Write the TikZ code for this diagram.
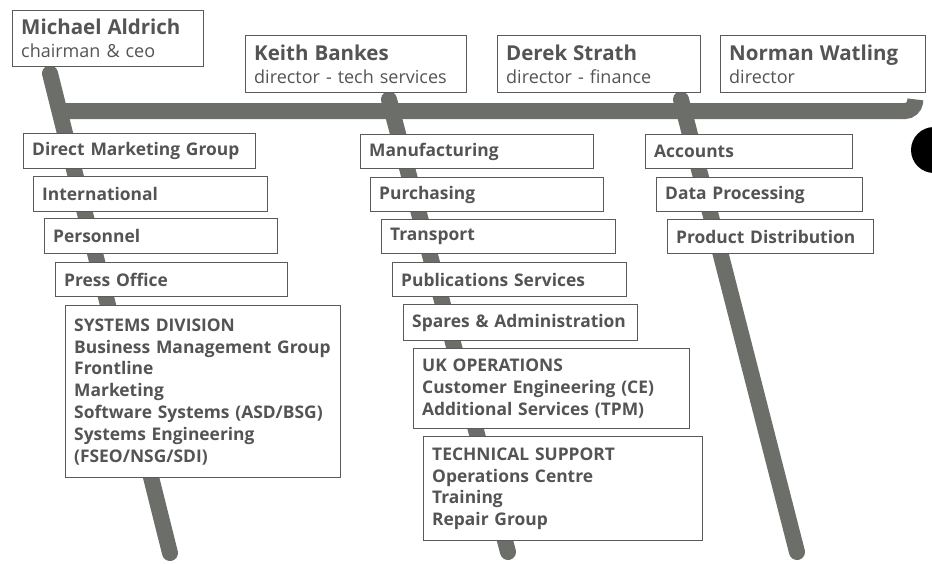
\documentclass[tikz,border=0pt]{standalone}
\usepackage{fontspec}
\setmainfont{Open Sans}
\usetikzlibrary{calc,backgrounds}
\definecolor{polec}{HTML}{6C6F69}
\definecolor{ink}{HTML}{545454}
\definecolor{edge}{HTML}{5A5A5A}
\newcommand\bx[7][]{\node[box,#1, minimum width=#5pt, minimum height=#6pt, text width=\dimexpr#5pt-17pt\relax] (#2) at (#3,#4) {#7};}
\begin{document}
\begin{tikzpicture}[x=1pt,y=-1pt,
  box/.style={draw=edge, line width=1.4pt, fill=white, anchor=north west, inner xsep=8pt, inner ysep=0pt, align=left, text=ink, font=\bfseries\fontsize{17.4}{21.8}\selectfont},
  topbox/.style={font=\mdseries\fontsize{18}{23}\selectfont},
  polest/.style={draw=polec, line width=16pt, line cap=round},
  barst/.style={draw=polec, line width=16pt, rounded corners=9pt},
]
\useasboundingbox (0,0) rectangle (932,563);
% top boxes
\bx[topbox]{ma}{12}{10}{191}{56}{{\fontsize{20.5}{23}\selectfont\bfseries Michael Aldrich}\\chairman \& ceo}
\bx[topbox]{kb}{245}{35}{221}{57}{{\fontsize{20.5}{23}\selectfont\bfseries Keith Bankes}\\director - tech services}
\bx[topbox]{ds}{497}{35}{203}{57}{{\fontsize{20.5}{23}\selectfont\bfseries Derek Strath}\\director - finance}
\bx[topbox]{nw}{720}{35}{205}{57}{{\fontsize{20.5}{23}\selectfont\bfseries Norman Watling}\\director}
% left column
\bx{dmg}{23}{133}{232}{35}{Direct Marketing Group}
\bx{intl}{33}{176}{234}{35}{International}
\bx{pers}{44}{218}{233}{35}{Personnel}
\bx{press}{55}{262}{232}{34}{Press Office}
\bx{sys}{65}{305}{275}{172}{SYSTEMS DIVISION\\Business Management Group\\Frontline\\Marketing\\Software Systems (ASD/BSG)\\Systems Engineering\\(FSEO/NSG/SDI)}
% middle column
\bx{manu}{360}{134}{233}{34}{Manufacturing}
\bx{purch}{370}{177}{233}{34}{Purchasing}
\bx{trans}{381}{219}{234}{34}{Transport}
\bx{pubs}{392}{262}{234}{34}{Publications Services}
\bx{spares}{403}{304}{234}{36}{Spares \& Administration}
\bx{ukops}{413}{348}{276}{80}{UK OPERATIONS\\Customer Engineering (CE)\\Additional Services (TPM)}
\bx{tech}{423}{436}{279}{104}{TECHNICAL SUPPORT\\Operations Centre\\Training\\Repair Group}
% right column
\bx{acc}{645}{134}{207}{34}{Accounts}
\bx{dp}{656}{177}{206}{34}{Data Processing}
\bx{pd}{667}{219}{206}{34}{Product Distribution}
% pole end points
\coordinate (e1) at (170,553);
\coordinate (e2) at (508,552);
\coordinate (e3) at (797,552);
\coordinate (bl) at (58,111);
\coordinate (br) at (914,111);
\begin{scope}[on background layer]
\fill[black] (934,150) circle (23);
\draw[polest] ($(ma.south west)+(38,6)$) -- (e1);
\draw[polest] ($(kb.south west)+(144,6)$) -- (e2);
\draw[polest] ($(ds.south west)+(184,6)$) -- (e3);
\draw[barst] (bl) -- (br) -- ($(nw.south east)+(-11,6)$);
\end{scope}
\end{tikzpicture}
\end{document}
